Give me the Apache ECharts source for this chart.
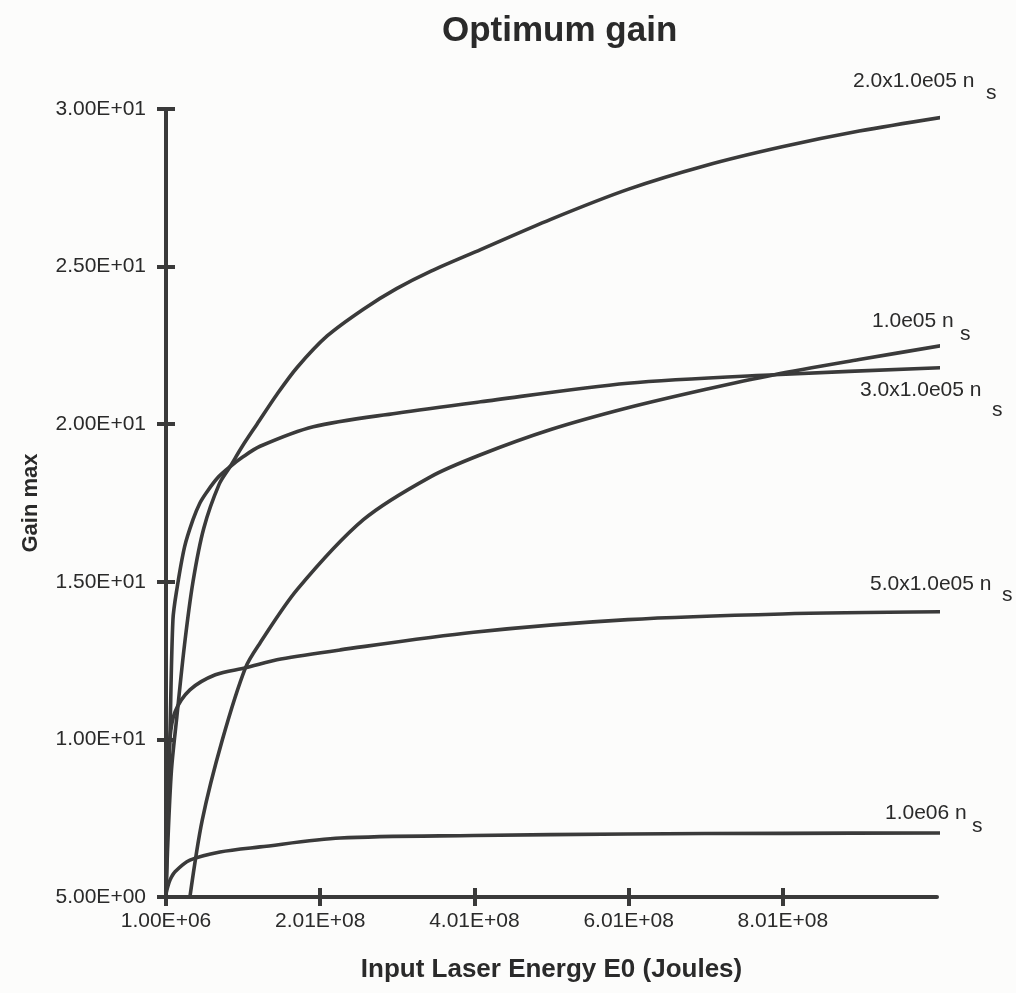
<!DOCTYPE html>
<html>
<head>
<meta charset="utf-8">
<title>Optimum gain</title>
<script src="https://cdn.jsdelivr.net/npm/echarts@6/dist/echarts.min.js"></script>
<style>
  html, body { margin: 0; padding: 0; background: #fcfcfb; }
  #chart { width: 1016px; height: 993px; }
</style>
</head>
<body>
<div id="chart"></div>
<script>
// tick labels on the energy axis
const energyTicks = [1e6, 2.01e8, 4.01e8, 6.01e8, 8.01e8]

// 2.0x1.0e05 n_s
const energyA = [1e6, 3e6, 8e6, 1.5e7, 2.5e7, 3.6e7, 5e7, 7e7, 8.4e7, 1.0e8, 1.19e8, 1.45e8, 1.71e8, 2.1e8, 2.57e8, 3e8, 3.44e8, 4.09e8, 5e8, 6e8, 7e8, 8e8, 9e8, 1.013e9]
const gainA = [5.0, 6.5, 9.0, 10.7, 13.0, 15.0, 16.7, 18.1, 18.65, 19.3, 20.0, 20.95, 21.8, 22.8, 23.65, 24.3, 24.85, 25.54, 26.5, 27.45, 28.2, 28.8, 29.3, 29.76]

// 1.0e05 n_s
const energyB = [3.2e7, 4.8e7, 7.4e7, 1.04e8, 1.23e8, 1.71e8, 2.57e8, 3.44e8, 4.09e8, 5e8, 6e8, 7e8, 7.9e8, 9e8, 1.013e9]
const gainB = [5.0, 7.44, 9.98, 12.27, 13.06, 14.75, 16.97, 18.33, 19.03, 19.83, 20.52, 21.1, 21.57, 22.05, 22.52]

// 3.0x1.0e05 n_s
const energyC = [1e6, 3e6, 6e6, 1e7, 1.5e7, 2.5e7, 3.6e7, 4.5e7, 5.4e7, 6.8e7, 8.4e7, 1.0e8, 1.23e8, 1.92e8, 3e8, 4.09e8, 6e8, 7.9e8, 1.013e9]
const gainC = [5.0, 7.5, 10.0, 13.8, 14.75, 16.1, 16.97, 17.5, 17.85, 18.3, 18.65, 18.95, 19.3, 19.92, 20.35, 20.71, 21.3, 21.57, 21.8]

// 5.0x1.0e05 n_s
const energyD = [1e6, 3e6, 6e6, 1.27e7, 3.2e7, 6.5e7, 1.04e8, 1.5e8, 2.27e8, 4e8, 6e8, 8e8, 1.013e9]
const gainD = [5.2, 8.0, 10.0, 10.87, 11.57, 12.05, 12.27, 12.55, 12.84, 13.4, 13.8, 13.98, 14.05]

// 1.0e06 n_s
const energyE = [1e6, 3e6, 6.2e6, 1.27e7, 3.2e7, 7.1e7, 1.23e8, 2.27e8, 4e8, 6e8, 8e8, 1.013e9]
const gainE = [5.1, 5.3, 5.54, 5.8, 6.17, 6.43, 6.59, 6.87, 6.95, 7.0, 7.02, 7.03]

const ink = '#3a3a3a'
const font = 'Liberation Sans, Arial, sans-serif'

const sci = (v) => {
  const [m, e] = v.toExponential(2).split('e')
  const exp = Math.abs(parseInt(e, 10))
  return m + 'E' + (e[0] === '-' ? '-' : '+') + String(exp).padStart(2, '0')
}

const pairs = (xs, ys) => xs.map((x, i) => [x, ys[i]])

const curve = (name, xs, ys) => ({
  name,
  type: 'line',
  data: pairs(xs, ys),
  xAxisIndex: 0,
  yAxisIndex: 0,
  showSymbol: false,
  smooth: 0.3,
  clip: false,
  lineStyle: { color: ink, width: 3.6 },
  animation: false
})

const label = (text, x, y) => ({
  type: 'text',
  x, y,
  style: { text, fill: '#2a2a2a', font: '21px ' + font, textVerticalAlign: 'middle' }
})

const chart = echarts.init(document.getElementById('chart'))

const xMin = 1e6
const xMax = 1.0009e9

chart.setOption({
  backgroundColor: '#fcfcfb',
  title: {
    text: 'Optimum gain',
    left: 437,
    top: 9,
    textStyle: { fontFamily: font, fontSize: 35, fontWeight: 'bold', color: '#2a2a2a' }
  },
  grid: { left: 166, right: 79, top: 109, bottom: 96, outerBoundsMode: 'none' },
  xAxis: [
    {
      type: 'value',
      min: xMin,
      max: xMax,
      position: 'bottom',
      name: 'Input Laser Energy E0 (Joules)',
      nameLocation: 'middle',
      nameGap: 60,
      nameTextStyle: { fontFamily: font, fontSize: 26, fontWeight: 'bold', color: '#2a2a2a' },
      axisLine: { onZero: false, lineStyle: { color: ink, width: 4 } },
      axisTick: { inside: false, length: 9, customValues: energyTicks, lineStyle: { color: ink, width: 4 } },
      axisLabel: {
        customValues: energyTicks,
        formatter: sci,
        margin: 14,
        fontFamily: font,
        fontSize: 21,
        color: '#2a2a2a'
      },
      splitLine: { show: false }
    },
    {
      type: 'value',
      min: xMin,
      max: xMax,
      position: 'bottom',
      axisLine: { show: false, onZero: false },
      axisTick: { inside: true, length: 9, customValues: energyTicks, lineStyle: { color: ink, width: 4 } },
      axisLabel: { show: false },
      splitLine: { show: false }
    }
  ],
  yAxis: [
    {
      type: 'value',
      min: 5,
      max: 30,
      interval: 5,
      position: 'left',
      name: 'Gain max',
      nameLocation: 'middle',
      nameGap: 124,
      nameTextStyle: { fontFamily: font, fontSize: 22, fontWeight: 'bold', color: '#2a2a2a' },
      axisLine: { show: true, onZero: false, lineStyle: { color: ink, width: 4 } },
      axisTick: { show: true, inside: false, length: 9, lineStyle: { color: ink, width: 4 } },
      axisLabel: { formatter: sci, margin: 20, fontFamily: font, fontSize: 21, color: '#2a2a2a' },
      splitLine: { show: false }
    },
    {
      type: 'value',
      min: 5,
      max: 30,
      interval: 5,
      position: 'left',
      axisLine: { show: false, onZero: false },
      axisTick: { show: true, inside: true, length: 9, lineStyle: { color: ink, width: 4 } },
      axisLabel: { show: false },
      splitLine: { show: false }
    }
  ],
  series: [
    curve('2.0x1.0e05 ns', energyA, gainA),
    curve('1.0e05 ns', energyB, gainB),
    curve('3.0x1.0e05 ns', energyC, gainC),
    curve('5.0x1.0e05 ns', energyD, gainD),
    curve('1.0e06 ns', energyE, gainE)
  ],
  graphic: [
    label('2.0x1.0e05 n', 853, 81),
    label('s', 986, 93),
    label('1.0e05 n', 872, 321),
    label('s', 960, 334),
    label('3.0x1.0e05 n', 860, 390),
    label('s', 992, 410),
    label('5.0x1.0e05 n', 870, 584),
    label('s', 1002, 595),
    label('1.0e06 n', 885, 813),
    label('s', 972, 826)
  ]
})

window.addEventListener('resize', () => chart.resize())
</script>
</body>
</html>
